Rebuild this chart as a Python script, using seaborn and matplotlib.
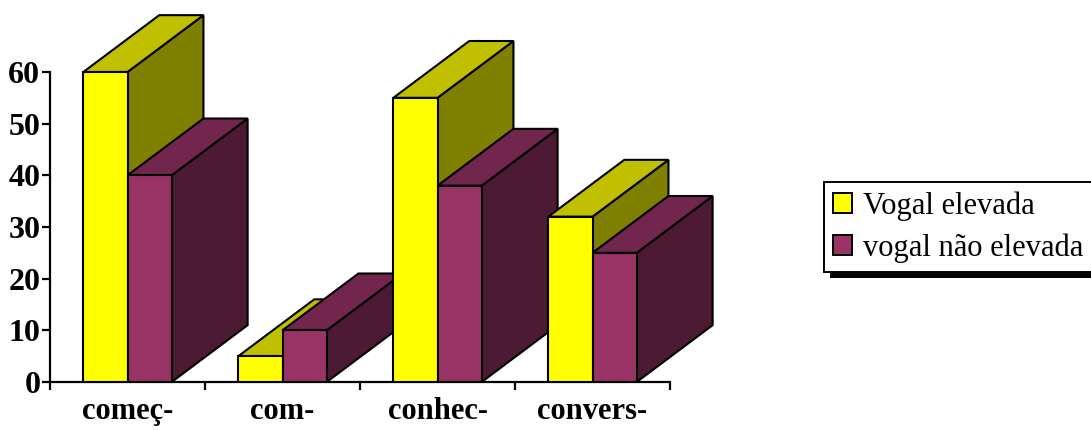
import matplotlib
matplotlib.use("Agg")
import matplotlib.pyplot as plt
from matplotlib.patches import Polygon, Patch, Rectangle
import pandas as pd
import seaborn as sns

categories = ["começ-", "com-", "conhec-", "convers-"]
series_names = ["Vogal elevada", "vogal não elevada"]
vogal_elevada = [60, 5, 55, 32]
vogal_nao_elevada = [40, 10, 38, 25]
y_ticks = [0, 10, 20, 30, 40, 50, 60]

front_colors = ["#FFFF00", "#993366"]
top_colors = ["#C0C000", "#73264D"]
side_colors = ["#808000", "#4D1A33"]

# depth of the pseudo-3D extrusion, in data units (x: categories, y: values)
DX, DY = 0.49, 11.0
EDGE_LW = 1.5

df = pd.DataFrame({
    "categoria": categories * 2,
    "serie": [series_names[0]] * len(categories) + [series_names[1]] * len(categories),
    "valor": vogal_elevada + vogal_nao_elevada,
})

sns.set_theme(style="white")
plt.rcParams["font.family"] = ["Liberation Serif", "DejaVu Serif"]

W, H = 1091, 430
fig = plt.figure(figsize=(W / 100, H / 100), dpi=100)
ax = fig.add_axes([50 / W, 48 / H, 697.5 / W, 372 / H])

sns.barplot(data=df, x="categoria", y="valor", hue="serie", palette=front_colors,
            width=0.57, saturation=1, errorbar=None, legend=False,
            edgecolor="black", linewidth=EDGE_LW, ax=ax)

bars = list(ax.patches)
for p in bars:
    x0, w, h = p.get_x(), p.get_width(), p.get_height()
    xc = x0 + w / 2
    cat = int(round(xc))
    hue = 0 if xc < cat else 1
    z = 10 + cat * 6 + hue * 3
    side = Polygon([(x0 + w, 0), (x0 + w + DX, DY), (x0 + w + DX, h + DY), (x0 + w, h)],
                   closed=True, facecolor=side_colors[hue], edgecolor="black",
                   linewidth=EDGE_LW, joinstyle="miter", zorder=z, clip_on=False)
    top = Polygon([(x0, h), (x0 + w, h), (x0 + w + DX, h + DY), (x0 + DX, h + DY)],
                  closed=True, facecolor=top_colors[hue], edgecolor="black",
                  linewidth=EDGE_LW, joinstyle="miter", zorder=z + 1, clip_on=False)
    ax.add_patch(side)
    ax.add_patch(top)
    p.set_zorder(z + 2)
    p.set_joinstyle("miter")

ax.set_xlim(-0.5, 4.0)
ax.set_ylim(0, 72)
ax.set_xlabel("")
ax.set_ylabel("")

for s in ["top", "right"]:
    ax.spines[s].set_visible(False)
for s in ["left", "bottom"]:
    ax.spines[s].set_color("black")
    ax.spines[s].set_linewidth(1.6)
ax.spines["left"].set_bounds(0, 60)
ax.spines["bottom"].set_bounds(-0.5, 3.5)

ax.set_yticks(y_ticks)
ax.set_yticklabels([str(v) for v in y_ticks], fontweight="bold", fontsize=23)
ax.tick_params(axis="y", left=True, direction="out", length=6, width=1.6,
               color="black", pad=1, labelcolor="black")

ax.set_xticks(range(len(categories)))
ax.set_xticklabels(categories, fontweight="bold", fontsize=22)
ax.set_xticks([i - 0.5 for i in range(len(categories) + 1)], minor=True)
ax.tick_params(axis="x", which="major", bottom=False, length=0, pad=11,
               labelcolor="black")
ax.tick_params(axis="x", which="minor", bottom=True, direction="out",
               length=6, width=1.6, color="black")

handles = [Patch(facecolor=c, edgecolor="black", linewidth=1.4) for c in front_colors]
leg = fig.legend(handles, series_names, loc="upper left",
                 bbox_to_anchor=(824 / W, 1 - 182 / H), borderaxespad=0,
                 frameon=True, fancybox=False, shadow=False, framealpha=1,
                 facecolor="white", edgecolor="black", fontsize=22,
                 handlelength=0.62, handleheight=0.62, handletextpad=0.35,
                 labelspacing=0.42, borderpad=0.3)
leg.get_frame().set_linewidth(1.4)
for t in leg.get_texts():
    t.set_color("black")
leg.set_zorder(10)

# solid drop shadow behind the legend box
fig.canvas.draw()
bb = leg.get_frame().get_window_extent().transformed(fig.transFigure.inverted())
off_x, off_y = 6 / W, 6 / H
fig.add_artist(Rectangle((bb.x0 + off_x, bb.y0 - off_y), bb.width, bb.height,
                         transform=fig.transFigure, facecolor="black",
                         edgecolor="none", zorder=9))

fig.savefig("out.png", dpi=100, facecolor="white")
